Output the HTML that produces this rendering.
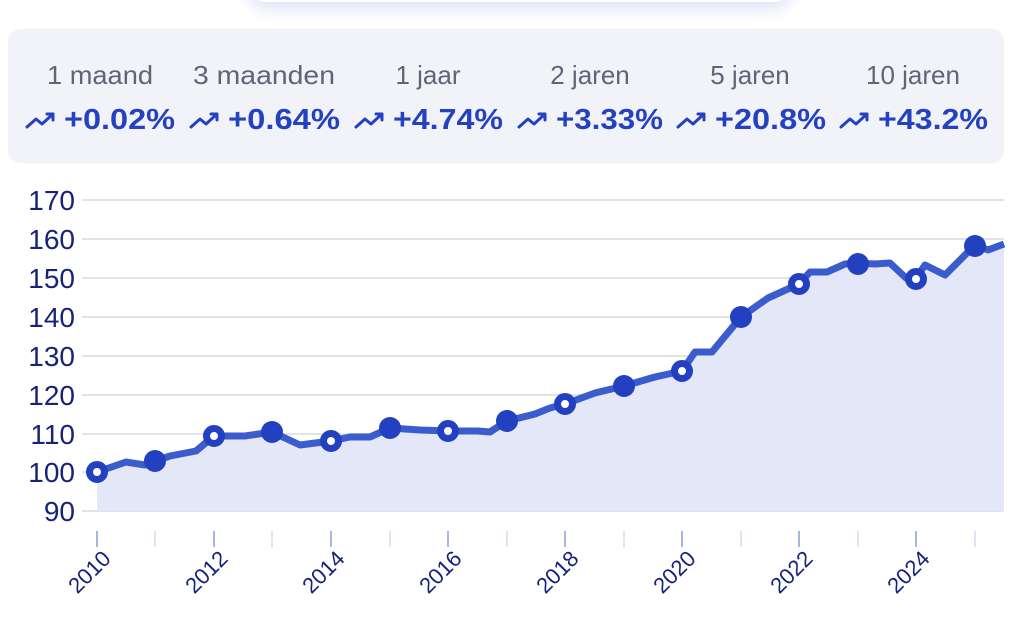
<!DOCTYPE html>
<html><head><meta charset="utf-8"><style>
body{margin:0;width:1036px;height:634px;background:#fff;overflow:hidden;font-family:"Liberation Sans",sans-serif;position:relative}
.glow{position:absolute;left:250px;top:-30px;width:540px;height:32px;border-radius:20px;box-shadow:0 6px 16px rgba(90,110,210,0.22);background:#fff}
.card{position:absolute;left:8px;top:29px;width:996px;height:134px;background:#f2f3f8;border-radius:12px}
</style></head><body>
<div class="glow"></div>
<div class="card"></div>
<svg width="1036" height="634" style="position:absolute;left:0;top:0">
<g font-family="Liberation Sans" >
<g font-size="26" fill="#5f6476" text-anchor="middle">
<text x="100" y="84" textLength="106" lengthAdjust="spacingAndGlyphs">1 maand</text><text x="264" y="84" textLength="142" lengthAdjust="spacingAndGlyphs">3 maanden</text><text x="428" y="84">1 jaar</text><text x="590" y="84">2 jaren</text><text x="750" y="84">5 jaren</text><text x="913" y="84">10 jaren</text>
</g>
<g font-size="29" font-weight="bold" fill="#2442c0">
<text x="64" y="129" textLength="111" lengthAdjust="spacingAndGlyphs">+0.02%</text><text x="228" y="129" textLength="112" lengthAdjust="spacingAndGlyphs">+0.64%</text><text x="393" y="129" textLength="110" lengthAdjust="spacingAndGlyphs">+4.74%</text><text x="556" y="129" textLength="107" lengthAdjust="spacingAndGlyphs">+3.33%</text><text x="715" y="129" textLength="111" lengthAdjust="spacingAndGlyphs">+20.8%</text><text x="878" y="129" textLength="110" lengthAdjust="spacingAndGlyphs">+43.2%</text>
</g>
<g fill="none" stroke="#2442c0" stroke-width="3" stroke-linecap="round" stroke-linejoin="round">
<path d="M27 127l9-8 6 5 11-10M47 114h6v6"/>
<path d="M27 127l9-8 6 5 11-10M47 114h6v6" transform="translate(164,0)"/>
<path d="M27 127l9-8 6 5 11-10M47 114h6v6" transform="translate(329,0)"/>
<path d="M27 127l9-8 6 5 11-10M47 114h6v6" transform="translate(492,0)"/>
<path d="M27 127l9-8 6 5 11-10M47 114h6v6" transform="translate(651,0)"/>
<path d="M27 127l9-8 6 5 11-10M47 114h6v6" transform="translate(814,0)"/>
</g>
</g>
<g stroke="#e2e3e8" stroke-width="2">
<line x1="82" x2="1004" y1="200" y2="200"/><line x1="82" x2="1004" y1="239" y2="239"/><line x1="82" x2="1004" y1="278" y2="278"/><line x1="82" x2="1004" y1="317" y2="317"/><line x1="82" x2="1004" y1="356" y2="356"/><line x1="82" x2="1004" y1="395" y2="395"/><line x1="82" x2="1004" y1="434" y2="434"/><line x1="82" x2="1004" y1="472" y2="472"/><line x1="82" x2="1004" y1="511" y2="511"/>
</g>
<g font-size="28" fill="#17237a" text-anchor="end" font-family="Liberation Sans">
<text x="75" y="210">170</text><text x="75" y="249">160</text><text x="75" y="288">150</text><text x="75" y="327">140</text><text x="75" y="366">130</text><text x="75" y="405">120</text><text x="75" y="444">110</text><text x="75" y="482">100</text><text x="75" y="521">90</text>
</g>
<path fill="#e4e7f7" d="M97 472 L126 462 L145 465 L155 461 L170 456 L196 451 L214 436 L245 436 L272 432 L300 445 L331 441 L350 437 L370 437 L390 428 L420 430 L448 431 L478 431 L490 432 L507 421 L535 414 L550 408 L565 404 L595 393 L624 386 L655 377 L682 371 L695 352 L712 352 L741 317 L768 298 L799 284 L810 272 L827 272 L845 264 L858 263 L875 264 L890 263 L906 278 L916 278 L925 265 L945 275 L962 258 L975 245 L988 250 L1004 244 L1004 511 L97 511Z"/>
<path fill="none" stroke="#3a5ccc" stroke-width="7" stroke-linejoin="round" d="M97 472 L126 462 L145 465 L155 461 L170 456 L196 451 L214 436 L245 436 L272 432 L300 445 L331 441 L350 437 L370 437 L390 428 L420 430 L448 431 L478 431 L490 432 L507 421 L535 414 L550 408 L565 404 L595 393 L624 386 L655 377 L682 371 L695 352 L712 352 L741 317 L768 298 L799 284 L810 272 L827 272 L845 264 L858 263 L875 264 L890 263 L906 278 L916 278 L925 265 L945 275 L962 258 L975 245 L988 250 L1004 244"/>
<g fill="#2340c0">
<circle cx="155" cy="461" r="11"/><circle cx="272" cy="432" r="11"/><circle cx="390" cy="428" r="11"/><circle cx="507" cy="421" r="11"/><circle cx="624" cy="386" r="11"/><circle cx="741" cy="317" r="11"/><circle cx="858" cy="264" r="11"/><circle cx="975" cy="246" r="11"/>
</g>
<g fill="#fff" stroke="#2340c0" stroke-width="7">
<circle cx="97" cy="472" r="7.5"/><circle cx="214" cy="436" r="7.5"/><circle cx="331" cy="441" r="7.5"/><circle cx="448" cy="431" r="7.5"/><circle cx="565" cy="404" r="7.5"/><circle cx="682" cy="371" r="7.5"/><circle cx="799" cy="284" r="7.5"/><circle cx="916" cy="279" r="7.5"/>
</g>
<g stroke-width="2">
<line x1="97" x2="97" y1="531" y2="547" stroke="#a9b6e4"/><line x1="155" x2="155" y1="531" y2="547" stroke="#dfe3f4"/>
<line x1="214" x2="214" y1="531" y2="547" stroke="#a9b6e4"/><line x1="272" x2="272" y1="531" y2="547" stroke="#dfe3f4"/>
<line x1="331" x2="331" y1="531" y2="547" stroke="#a9b6e4"/><line x1="390" x2="390" y1="531" y2="547" stroke="#dfe3f4"/>
<line x1="448" x2="448" y1="531" y2="547" stroke="#a9b6e4"/><line x1="507" x2="507" y1="531" y2="547" stroke="#dfe3f4"/>
<line x1="565" x2="565" y1="531" y2="547" stroke="#a9b6e4"/><line x1="624" x2="624" y1="531" y2="547" stroke="#dfe3f4"/>
<line x1="682" x2="682" y1="531" y2="547" stroke="#a9b6e4"/><line x1="741" x2="741" y1="531" y2="547" stroke="#dfe3f4"/>
<line x1="799" x2="799" y1="531" y2="547" stroke="#a9b6e4"/><line x1="858" x2="858" y1="531" y2="547" stroke="#dfe3f4"/>
<line x1="916" x2="916" y1="531" y2="547" stroke="#a9b6e4"/><line x1="975" x2="975" y1="531" y2="547" stroke="#dfe3f4"/>
</g>
<g font-size="22" fill="#17237a" text-anchor="end" font-family="Liberation Sans">
<text transform="translate(112,560) rotate(-45)">2010</text>
<text transform="translate(229,560) rotate(-45)">2012</text>
<text transform="translate(346,560) rotate(-45)">2014</text>
<text transform="translate(463,560) rotate(-45)">2016</text>
<text transform="translate(580,560) rotate(-45)">2018</text>
<text transform="translate(697,560) rotate(-45)">2020</text>
<text transform="translate(814,560) rotate(-45)">2022</text>
<text transform="translate(931,560) rotate(-45)">2024</text>
</g>
</svg>
</body></html>
